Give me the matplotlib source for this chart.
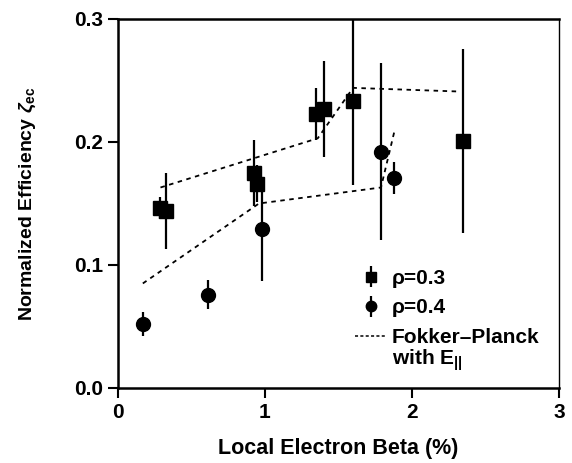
import matplotlib
matplotlib.use("Agg")
import matplotlib.pyplot as plt
from matplotlib.lines import Line2D

plt.rcParams['font.family'] = ['Liberation Sans', 'DejaVu Sans']
plt.rcParams['font.weight'] = 'bold'
plt.rcParams['mathtext.fontset'] = 'custom'
plt.rcParams['mathtext.rm'] = 'Liberation Sans:bold'
plt.rcParams['mathtext.bf'] = 'Liberation Sans:bold'
plt.rcParams['mathtext.it'] = 'Liberation Sans:italic'

# rho = 0.3 (squares)
beta_03 = [0.29, 0.33, 0.925, 0.95, 1.35, 1.40, 1.60, 2.35]
eff_03 = [0.146, 0.144, 0.175, 0.166, 0.223, 0.227, 0.233, 0.201]
err_03 = [0.009, 0.031, 0.027, 0.015, 0.021, 0.039, 0.068, 0.075]

# rho = 0.4 (circles)
beta_04 = [0.17, 0.61, 0.98, 1.79, 1.88]
eff_04 = [0.052, 0.076, 0.129, 0.192, 0.171]
err_04 = [0.010, 0.012, 0.042, 0.072, 0.013]

# Fokker-Planck with E_par
fp_beta_03 = [0.29, 1.36, 1.60, 2.33]
fp_eff_03 = [0.163, 0.203, 0.244, 0.241]
fp_beta_04 = [0.17, 0.96, 1.79, 1.88]
fp_eff_04 = [0.085, 0.150, 0.163, 0.208]

fig = plt.figure(figsize=(5.72, 4.63), dpi=100)
ax = fig.add_axes([0.206, 0.162, 0.771, 0.797])

dash = (0, (2.5, 2.5))
ax.plot(fp_beta_03, fp_eff_03, ls=dash, color='black', lw=1.3)
ax.plot(fp_beta_04, fp_eff_04, ls=dash, color='black', lw=1.3)

h1 = ax.errorbar(beta_03, eff_03, yerr=err_03, fmt='s', color='black',
                 ms=10, elinewidth=1.6, capsize=0)
h2 = ax.errorbar(beta_04, eff_04, yerr=err_04, fmt='o', color='black',
                 ms=10, elinewidth=1.6, capsize=0)
h3 = Line2D([], [], ls=(0, (2, 1.5)), color='black', lw=1.1)

leg = ax.legend([h1, h2, h3], ['ρ=0.3', 'ρ=0.4', 'Fokker–Planck'],
                loc='upper left', bbox_to_anchor=(0.537, 0.323), frameon=False,
                fontsize=15, handlelength=1.53, handletextpad=0.24,
                labelspacing=0.51, borderpad=0, borderaxespad=0,
                markerscale=0.75)
for t in leg.get_texts():
    t.set_fontweight('bold')
ax.text(0.621, 0.074, r'with $\mathbf{E}_{||}$', transform=ax.transAxes,
        fontsize=15, fontweight='bold', va='center', ha='left')

ax.set_xlim(0, 3)
ax.set_ylim(0, 0.3)
ax.set_xticks([0, 1, 2, 3])
ax.set_yticks([0.0, 0.1, 0.2, 0.3])
ax.set_yticklabels(['0.0', '0.1', '0.2', '0.3'])
ax.tick_params(axis='both', direction='out', length=7, width=1.5,
               labelsize=15)
for lab in ax.get_xticklabels() + ax.get_yticklabels():
    lab.set_fontweight('bold')

for s in ['left', 'bottom', 'top']:
    ax.spines[s].set_linewidth(1.8)
ax.spines['right'].set_linewidth(1.0)

ax.set_xlabel('Local Electron Beta (%)', fontsize=15.5, fontweight='bold',
              labelpad=12)
ax.set_ylabel(r'Normalized Efficiency $\zeta_{\mathbf{ec}}$', fontsize=14,
              fontweight='bold', labelpad=26)

fig.savefig('out.png', dpi=100)
